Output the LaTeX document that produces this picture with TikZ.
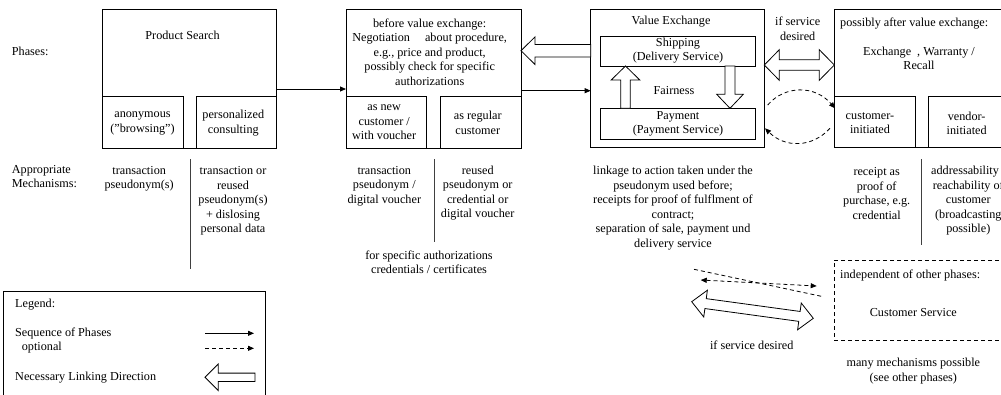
\documentclass[tikz,border=0pt]{standalone}
\usepackage{fontspec}
\setmainfont{Liberation Serif}[Ligatures=ResetAll]
\usetikzlibrary{calc,arrows.meta}
% single-headed hollow block arrow: #1 tail, #2 tip, #3 shaft half width, #4 head half width, #5 head length
\newcommand\hollowsingle[5]{%
  \coordinate (hbB) at ($(#2)!#5!(#1)$);
  \draw[blockarrow] ($(#1)!#3!90:(#2)$) -- ($(hbB)!#3!90:(#2)$) -- ($(hbB)!#4!90:(#2)$) -- (#2)
     -- ($(hbB)!#4!-90:(#2)$) -- ($(hbB)!#3!-90:(#2)$) -- ($(#1)!#3!-90:(#2)$) -- cycle;
}
% double-headed hollow block arrow
\newcommand\hollowdouble[5]{%
  \coordinate (hdA) at ($(#1)!#5!(#2)$);
  \coordinate (hdB) at ($(#2)!#5!(#1)$);
  \draw[blockarrow] (#1) -- ($(hdA)!#4!90:(#2)$) -- ($(hdA)!#3!90:(#2)$) -- ($(hdB)!#3!90:(#2)$)
     -- ($(hdB)!#4!90:(#2)$) -- (#2) -- ($(hdB)!#4!-90:(#2)$) -- ($(hdB)!#3!-90:(#2)$)
     -- ($(hdA)!#3!-90:(#2)$) -- ($(hdA)!#4!-90:(#2)$) -- cycle;
}
\tikzset{
  box/.style={draw, line width=0.8pt, inner sep=0pt, outer sep=0pt, anchor=north west},
  dbox/.style={box, dash pattern=on 4pt off 3pt},
  txt/.style={inner sep=0pt, align=center},
  ltxt/.style={inner sep=0pt, align=left, anchor=west},
  seq/.style={line width=0.8pt, -{Triangle[length=6pt,width=5pt]}},
  opt/.style={seq, dash pattern=on 4pt off 3pt},
  optboth/.style={line width=0.8pt, dash pattern=on 4pt off 3pt, {Triangle[length=6pt,width=5pt]}-{Triangle[length=6pt,width=5pt]}},
  dline/.style={line width=0.8pt, dash pattern=on 4pt off 3pt},
  sepline/.style={line width=1pt, black!75},
  blockarrow/.style={draw, line width=0.8pt, fill=white, line join=miter},
}
\begin{document}
\begin{tikzpicture}[x=1pt, y=-1pt, font=\fontsize{12.2}{14.5}\selectfont]
\useasboundingbox (0,0) rectangle (1001,394);

% ---------- row labels
\node[ltxt] (lphases) at (11.7,51.7) {Phases:};
\node[ltxt] (lmech) at (11.7,176.3) {Appropriate\\Mechanisms:};

% ---------- Product search
\node[box, minimum width=174pt, minimum height=139.3pt] (ps) at (102.7,9) {};
\node[box, minimum width=80.3pt, minimum height=52.3pt] (psA) at (102.7,96) {};
\node[box, minimum width=80pt, minimum height=52.3pt] (psB) at (196.7,96) {};
\node[txt] (tps) at (182.5,35.7) {Product Search};
\node[txt] (tpsA) at (142.5,123.3) {anonymous\\("browsing")};
\node[txt] (tpsB) at (233.3,123.3) {personalized\\consulting};
\node[txt] (mpsA) at (139.2,179) {transaction\\pseudonym(s)};
\node[txt] (mpsB) at (233,200.8) {transaction or\\reused\\pseudonym(s)\\+ dislosing\\personal data};
\draw[sepline] (190,159) -- (190,269);

% ---------- Negotiation
\node[box, minimum width=175pt, minimum height=139.3pt] (neg) at (346,9) {};
\node[box, minimum width=80.7pt, minimum height=52.3pt] (negA) at (346,96) {};
\node[box, minimum width=80.3pt, minimum height=52.3pt] (negB) at (440.7,96) {};
\node[txt] (tneg) at (429.7,52) {before value exchange:\\Negotiation\hspace{12pt} about procedure,\\e.g., price and product,\\possibly check for specific\\authorizations};
\node[txt] (tnegA) at (384.2,122.5) {as new\\customer /\\with voucher};
\node[txt] (tnegB) at (477.8,122.8) {as regular\\customer};
\node[txt] (mnegA) at (384.3,186.2) {transaction\\pseudonym /\\digital voucher};
\node[txt] (mnegB) at (477.7,193.3) {reused\\pseudonym or\\credential or\\digital voucher};
\draw[sepline] (434,159) -- (434,241.7);
\node[txt] (mneg) at (429,262.2) {for specific authorizations\\credentials / certificates};

% ---------- Value exchange
\node[box, minimum width=173.6pt, minimum height=138.7pt] (ve) at (590.7,9) {};
\node[box, minimum width=154.3pt, minimum height=30pt] (ship) at (600.7,36) {};
\node[box, minimum width=154.3pt, minimum height=31pt] (pay) at (600.7,108.3) {};
\node[txt] (tve) at (671,21.7) {Value Exchange};
\node[txt] (tship) at (678,50.8) {Shipping\\(Delivery Service)};
\node[txt] (tpay) at (678,123.8) {Payment\\(Payment Service)};
\node[txt] (tfair) at (674,90.7) {Fairness};
\node[txt] (mve) at (673,208) {linkage to action taken under the\\pseudonym used before;\\receipts for proof of fulflment of\\contract;\\separation of sale, payment und\\delivery service};

% ---------- after value exchange
\node[box, minimum width=200pt, minimum height=138.7pt] (pa) at (834.3,9) {};
\node[box, minimum width=80.7pt, minimum height=51.7pt] (paA) at (834.3,96) {};
\node[box, minimum width=100pt, minimum height=51.7pt] (paB) at (928.3,96) {};
\node[ltxt] (tpa) at (840,23.3) {possibly after value exchange:};
\node[txt] (tpa2) at (919,58.3) {Exchange\hspace{6pt}, Warranty /\\Recall};
\node[txt] (tpaA) at (870,123.3) {customer-\\initiated};
\node[txt] (tpaB) at (966.7,123.3) {vendor-\\initiated};
\node[txt] (mpaA) at (876.7,193.3) {receipt as\\proof of\\purchase, e.g.\\credential};
\node[txt] (mpaB) at (968.3,200.8) {addressability /\\reachability of\\customer\\(broadcasting\\possible)};
\draw[sepline] (921,159) -- (921,245);
\node[txt] (tsd) at (797.7,28.7) {if service\\desired};

% ---------- customer service
\node[dbox, minimum width=200pt, minimum height=80pt] (cs) at (834,260) {};
\node[ltxt] (tcs1) at (840,275) {independent of other phases:};
\node[txt] (tcs2) at (913.3,312.3) {Customer Service};
\node[txt] (mcs) at (913.3,371.3) {many mechanisms possible\\(see other phases)};
\node[txt] (tsd2) at (751.7,345.7) {if service desired};

% ---------- legend
\node[box, minimum width=261.7pt, minimum height=120pt] (leg) at (3.3,291.7) {};
\node[ltxt] (tleg) at (15,304.3) {Legend:};
\node[ltxt] (tleg1) at (15,333) {Sequence of Phases};
\node[ltxt] (tleg2) at (21.7,348) {optional};
\node[ltxt] (tleg3) at (15,377.3) {Necessary Linking Direction};

% ---------- connectors
\coordinate (a1s) at ($(ps.north east)+(0,80)$);
\coordinate (a1e) at ($(neg.north west)+(0,80)$);
\draw[seq] (a1s) -- (a1e);
\coordinate (a2s) at ($(neg.north east)+(0,81.7)$);
\coordinate (a2e) at ($(ve.north west)+(0,81.7)$);
\draw[seq] (a2s) -- (a2e);
% necessary linking: value exchange -> negotiation
\coordinate (h1t) at ($(ve.north west)+(0,41.7)$);
\coordinate (h1h) at ($(neg.north east)+(0,41.7)$);
\hollowsingle{h1t}{h1h}{6.3pt}{13.8pt}{14pt}
% fairness arrows
\coordinate (fu1) at ($(pay.north west)+(24.8,0)$);
\coordinate (fu2) at ($(ship.south west)+(24.8,0)$);
\hollowsingle{fu1}{fu2}{4.7pt}{14.3pt}{14pt}
\coordinate (fd1) at ($(ship.south west)+(129.3,0)$);
\coordinate (fd2) at ($(pay.north west)+(129.3,0)$);
\hollowsingle{fd1}{fd2}{5pt}{13.3pt}{14pt}
% if service desired double arrow
\coordinate (d1a) at ($(ve.north east)+(0,56)$);
\coordinate (d1b) at ($(pa.north west)+(0,56)$);
\hollowdouble{d1a}{d1b}{5.3pt}{15.3pt}{15pt}
% optional dashed arcs
\coordinate (c1s) at ($(ve.north east)+(3.4,96)$);
\coordinate (c1e) at ($(paA.north west)+(0.7,12.3)$);
\draw[opt] (c1s) .. controls (785,85) and (815,85) .. (c1e);
\coordinate (c2s) at ($(paA.north west)+(-4.3,32.3)$);
\coordinate (c2e) at ($(ve.north east)+(0.7,119.3)$);
\draw[opt] (c2s) .. controls (812,148) and (785,148) .. (c2e);
% customer service connectors
\coordinate (e1) at (694,269.3);
\coordinate (e2) at ($(cs.north west)+(-10.7,36.7)$);
\draw[dline] (e1) -- (e2);
\coordinate (e3) at (700.7,280);
\coordinate (e4) at ($(cs.north west)+(-17.3,26)$);
\draw[optboth] (e3) -- (e4);
\coordinate (e5) at (691.7,301.7);
\coordinate (e6) at ($(cs.north west)+(-20.7,58.3)$);
\hollowdouble{e5}{e6}{5pt}{13.5pt}{14pt}
% legend samples
\coordinate (l1a) at (205,333.3);
\coordinate (l1b) at (254,333.3);
\draw[seq] (l1a) -- (l1b);
\coordinate (l2a) at (205,348.3);
\coordinate (l2b) at (254,348.3);
\draw[opt] (l2a) -- (l2b);
\coordinate (l3a) at (255,377.3);
\coordinate (l3b) at (205,377.3);
\hollowsingle{l3a}{l3b}{4.2pt}{13.3pt}{13.3pt}
\end{tikzpicture}
\end{document}
